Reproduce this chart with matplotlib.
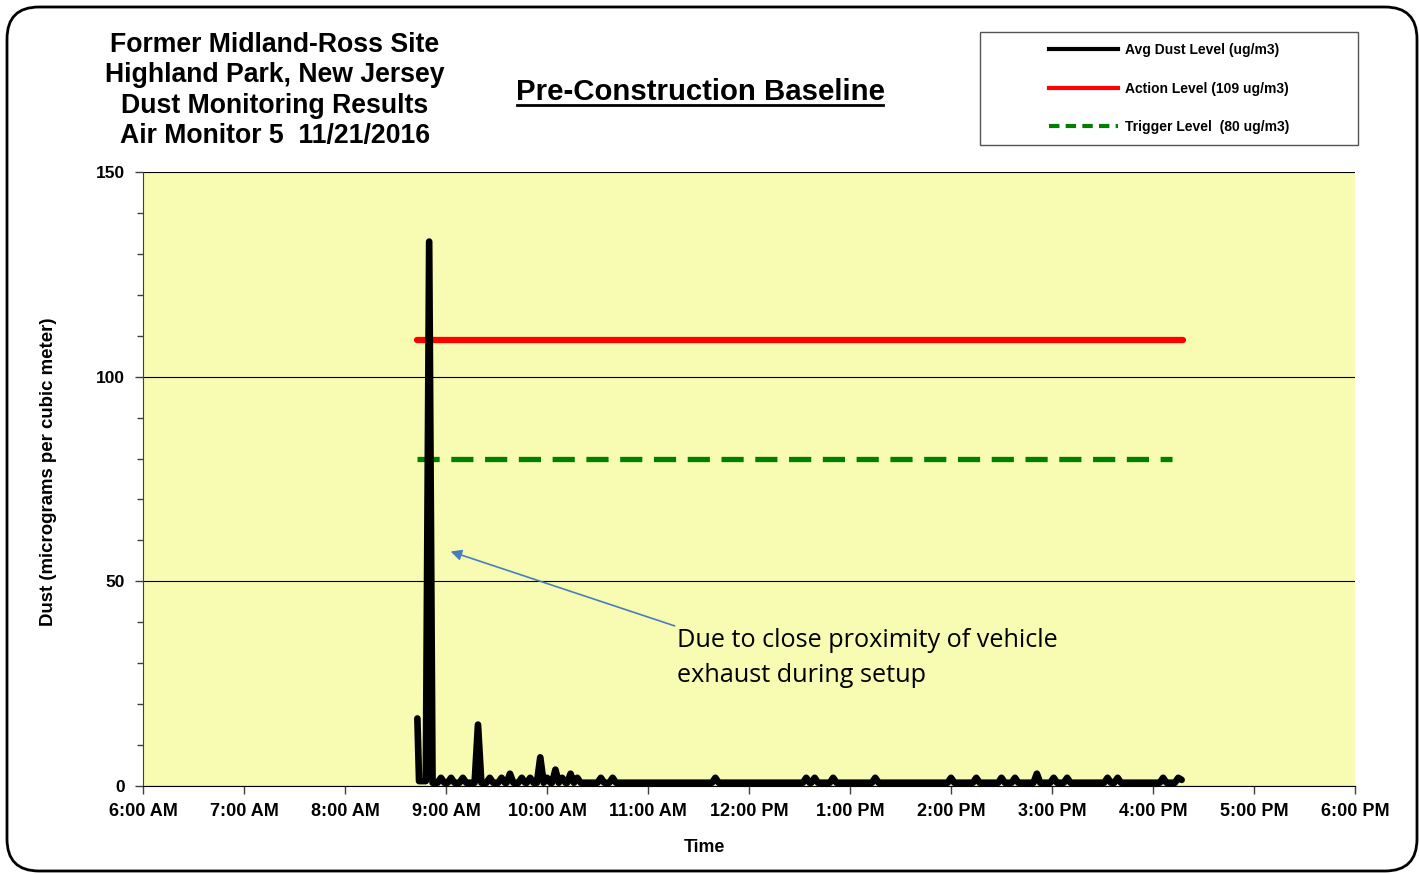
import matplotlib
matplotlib.use('Agg')
import matplotlib.pyplot as plt
from matplotlib.patches import FancyBboxPatch, Rectangle
from matplotlib.lines import Line2D
from matplotlib.ticker import MultipleLocator

plt.rcParams['font.family'] = ['Liberation Sans', 'DejaVu Sans']
plt.rcParams['font.weight'] = 'bold'

# avg dust readings, 11/21/2016 (ug/m3)
dust_times = ["8:43", "8:44", "8:48", "8:50", "8:52", "8:55", "8:57", "8:59", "9:01", "9:03",
              "9:05", "9:08", "9:10", "9:12", "9:17", "9:19", "9:21", "9:24", "9:26", "9:28",
              "9:31", "9:33", "9:35", "9:36", "9:38", "9:40", "9:43", "9:45", "9:47", "9:48",
              "9:50", "9:52", "9:54", "9:56", "9:58", "10:00", "10:02", "10:03", "10:05", "10:07",
              "10:09", "10:11", "10:12", "10:14", "10:16", "10:18", "10:20", "10:30", "10:32", "10:34",
              "10:37", "10:39", "10:41", "11:38", "11:40", "11:42", "12:32", "12:34", "12:36", "12:37",
              "12:39", "12:41", "12:48", "12:50", "12:52", "13:13", "13:15", "13:17", "13:58", "14:00",
              "14:02", "14:13", "14:15", "14:17", "14:28", "14:30", "14:32", "14:36", "14:38", "14:40",
              "14:49", "14:51", "14:53", "14:59", "15:01", "15:03", "15:07", "15:09", "15:11", "15:31",
              "15:33", "15:35", "15:37", "15:39", "15:41", "16:04", "16:06", "16:08", "16:13", "16:15",
              "16:17"]
dust_vals = [16.5, 1.2, 1.2, 133, 0.8, 0.8, 2, 0.8, 0.8, 2,
             0.8, 0.8, 2, 0.8, 0.8, 15, 0.8, 0.8, 2, 0.8,
             0.8, 2, 0.8, 0.8, 3, 0.8, 0.8, 2, 0.8, 0.8,
             2, 0.8, 0.8, 7, 0.8, 2, 0.8, 0.8, 4, 0.8,
             2, 0.8, 0.8, 3, 0.8, 2, 0.8, 0.8, 2, 0.8,
             0.8, 2, 0.8, 0.8, 2, 0.8, 0.8, 2, 0.8, 0.8,
             2, 0.8, 0.8, 2, 0.8, 0.8, 2, 0.8, 0.8, 2,
             0.8, 0.8, 2, 0.8, 0.8, 2, 0.8, 0.8, 2, 0.8,
             0.8, 3, 0.8, 0.8, 2, 0.8, 0.8, 2, 0.8, 0.8,
             2, 0.8, 0.8, 2, 0.8, 0.8, 2, 0.8, 0.8, 2,
             1.5]

action_level = 109
trigger_level = 80
action_span = ["8:43", "16:18"]
trigger_span = ["8:43", "16:11"]

tick_hours = list(range(6, 19))
tick_labels = ["6:00 AM", "7:00 AM", "8:00 AM", "9:00 AM", "10:00 AM", "11:00 AM", "12:00 PM",
               "1:00 PM", "2:00 PM", "3:00 PM", "4:00 PM", "5:00 PM", "6:00 PM"]


def hrs(t):
    h, m = t.split(':')
    return int(h) + int(m) / 60.0


fig = plt.figure(figsize=(14.2, 8.74), dpi=100)

# page frame / titles drawn in pixel coords
bg = fig.add_axes([0, 0, 1, 1])
bg.set_xlim(0, 1420)
bg.set_ylim(874, 0)
bg.axis('off')
bg.add_patch(FancyBboxPatch((7, 7), 1410, 864, boxstyle='round,pad=0,rounding_size=32',
                            fc='white', ec='black', lw=2))
for i, line in enumerate(["Former Midland-Ross Site", "Highland Park, New Jersey",
                          "Dust Monitoring Results", "Air Monitor 5  11/21/2016"]):
    bg.text(275, 45 + i * 30.5, line, ha='center', va='center', fontsize=19.2)
bg.text(700, 92, "Pre-Construction Baseline", ha='center', va='center', fontsize=21.2)
bg.plot([517, 883], [105, 105], color='black', lw=2)
bg.add_patch(Rectangle((980, 32), 378, 113, fc='white', ec='#555555', lw=1))

ax = fig.add_axes([143 / 1420, 1 - 786 / 874, (1355 - 143) / 1420, (786 - 172) / 874])
ax.set_facecolor('#F8FBB2')

ax.plot([hrs(t) for t in action_span], [action_level] * 2, color='#FF0000', lw=4.5,
        solid_capstyle='round')
ax.plot([hrs(t) for t in trigger_span], [trigger_level] * 2, color='#008000', lw=3.8,
        dashes=(4.2, 2.2))
ax.plot([hrs(t) for t in dust_times], dust_vals, color='black', lw=4.8,
        solid_joinstyle='round', solid_capstyle='round', clip_on=False)

ax.set_xlim(6, 18)
ax.set_ylim(0, 150)
ax.set_xticks(tick_hours)
ax.set_xticklabels(tick_labels)
ax.yaxis.set_major_locator(MultipleLocator(50))
ax.yaxis.set_minor_locator(MultipleLocator(10))
ax.tick_params(axis='both', which='major', direction='out', length=6, width=1, color='#404040',
               labelsize=12.5)
ax.tick_params(axis='x', pad=6, labelsize=13)
ax.tick_params(axis='y', pad=7)
ax.tick_params(axis='y', which='minor', direction='out', length=4, width=1, color='#404040')
ax.grid(axis='y', which='major', color='black', lw=0.8)
ax.set_axisbelow(True)
for s in ['top', 'right']:
    ax.spines[s].set_visible(False)
ax.spines['left'].set_color('#404040')
ax.spines['bottom'].set_color('black')

ax.set_xlabel('Time', fontsize=12.8, fontweight='bold')
ax.set_ylabel('Dust (micrograms per cubic meter)', fontsize=13.4, fontweight='bold')
ax.xaxis.set_label_coords((704 - 143) / 1212, -(847 - 786) / 614)
ax.yaxis.set_label_coords(-(143 - 49) / 1212, (786 - 472) / 614)
ax.xaxis.label.set_va('center')
ax.yaxis.label.set_va('center')

ax.annotate('', xy=(9.02, 57.5), xytext=(11.29, 38.9),
            arrowprops=dict(arrowstyle='-|>', color='#4A7EBB', lw=1.2, mutation_scale=16))
ax.text(11.29, 38.6, 'Due to close proximity of vehicle\nexhaust during setup',
        family='Open Sans', weight='normal', fontsize=18.2, va='top', ha='left', linespacing=1.55)

handles = [Line2D([], [], color='black', lw=3),
           Line2D([], [], color='#FF0000', lw=3),
           Line2D([], [], color='#008000', lw=3, dashes=(2.5, 1.5))]
labels = ['Avg Dust Level (ug/m3)', 'Action Level (109 ug/m3)', 'Trigger Level  (80 ug/m3)']
fig.legend(handles, labels, loc='center', bbox_to_anchor=(1169 / 1420, 1 - 88.5 / 874),
           frameon=False, fontsize=10, handlelength=5.0, handletextpad=0.5, labelspacing=1.75)

fig.savefig('out.png', dpi=100)
